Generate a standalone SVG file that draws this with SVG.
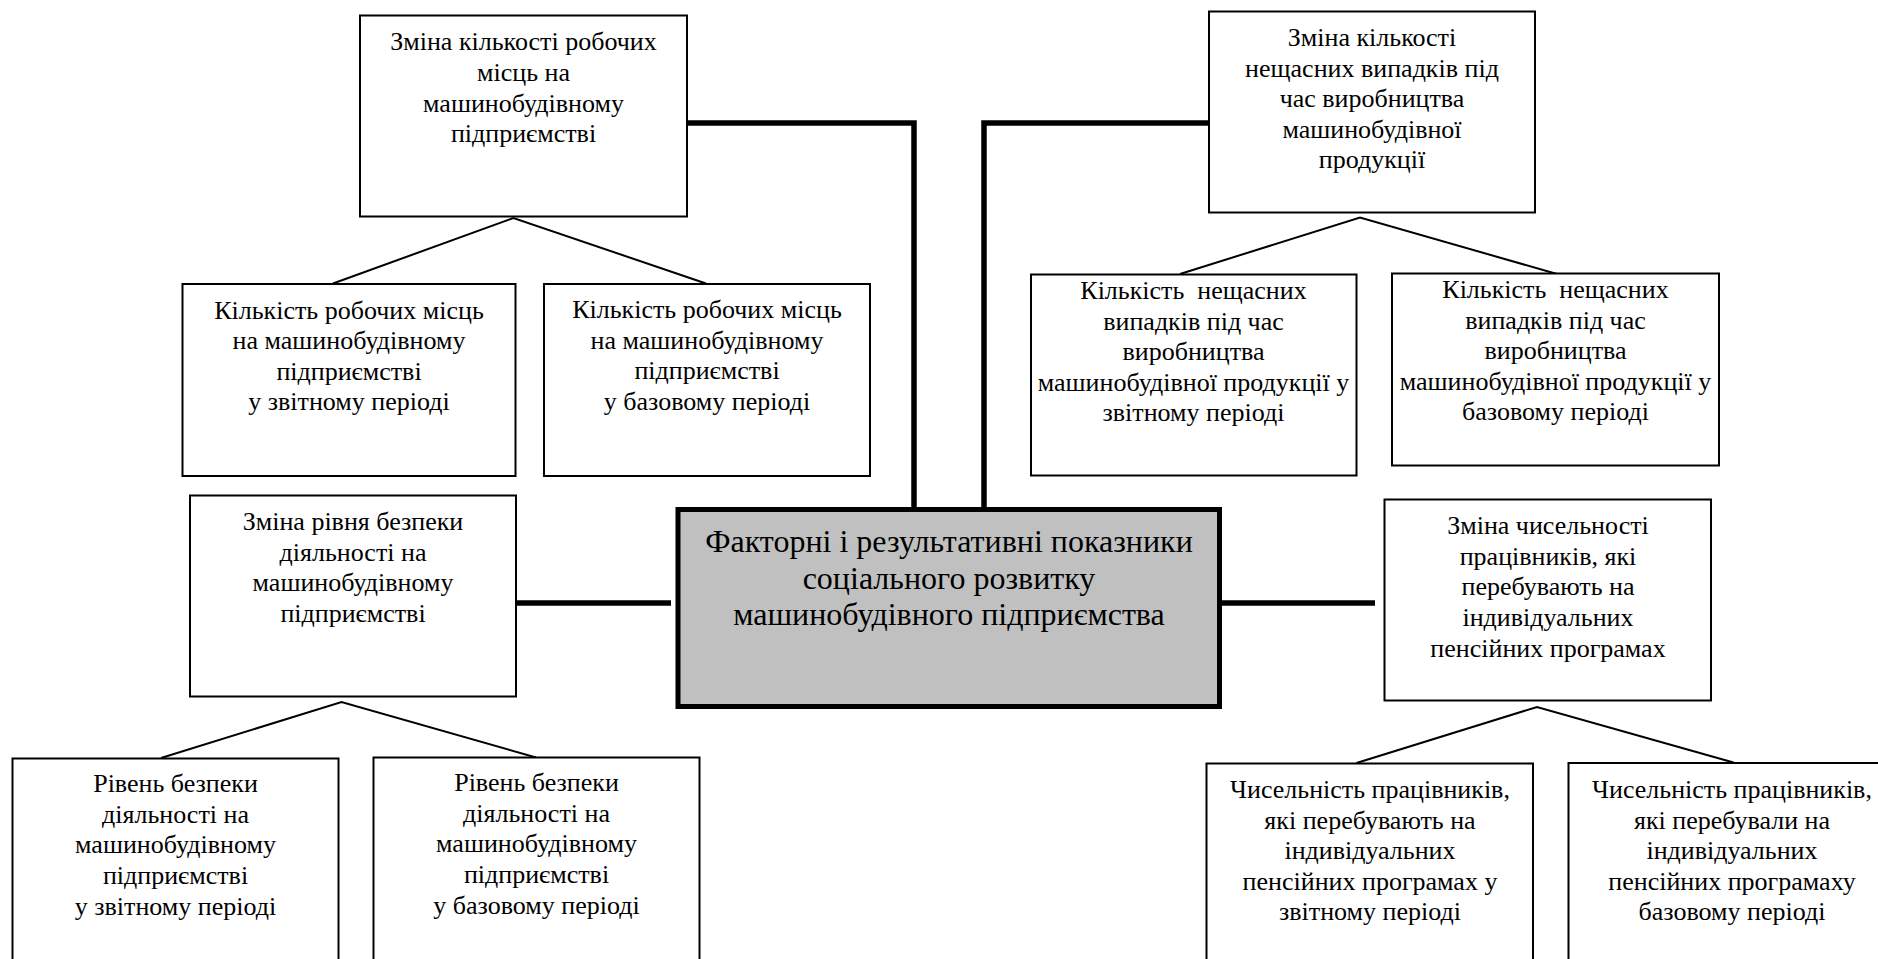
<svg xmlns="http://www.w3.org/2000/svg" width="1878" height="959" viewBox="0 0 1878 959">
<style>
.bg{fill:#fff}
.box{fill:#fff;stroke:#000;stroke-width:2}
.main{fill:#c0c0c0;stroke:#000;stroke-width:5}
.t{font-family:"Liberation Serif","Times New Roman",serif;font-size:26px;text-anchor:middle;fill:#000}
.tc{font-family:"Liberation Serif","Times New Roman",serif;font-size:32px;text-anchor:middle;fill:#000}
.thick{stroke:#000;stroke-width:5.5;fill:none;stroke-linejoin:miter}
.thin{stroke:#000;stroke-width:2;fill:none}
</style>
<rect class="bg" x="0" y="0" width="1878" height="959"/>
<g id="connectors">
<path class="thick" d="M687,123 H914 V507"/>
<path class="thick" d="M1208,123 H984 V507"/>
<path class="thick" d="M516,603 H671"/>
<path class="thick" d="M1222,603 H1375"/>
<path class="thin" d="M333,283.5 L513.5,218 L706,283.5"/>
<path class="thin" d="M1180,274 L1360,217.5 L1557,274"/>
<path class="thin" d="M161,758 L341.5,702 L536,757.5"/>
<path class="thin" d="M1356.5,763 L1537,707 L1733.5,762.5"/>
</g>
<g id="center">
<rect class="main" x="678" y="509.5" width="541.5" height="197"/>
<text class="tc"><tspan x="949" y="552">Факторні і результативні показники</tspan><tspan x="949" y="588.5">соціального розвитку</tspan><tspan x="949" y="625">машинобудівного підприємства</tspan></text>
</g>
<g id="n-workplaces">
<rect class="box" x="360" y="15.5" width="327" height="201"/>
<text class="t"><tspan x="523.5" y="50">Зміна кількості робочих</tspan><tspan x="523.5" y="81">місць на</tspan><tspan x="523.5" y="111.5">машинобудівному</tspan><tspan x="523.5" y="142">підприємстві</tspan></text>
</g>
<g id="n-workplaces-report">
<rect class="box" x="182.5" y="284" width="333" height="192"/>
<text class="t"><tspan x="349" y="318.5">Кількість робочих місць</tspan><tspan x="349" y="349">на машинобудівному</tspan><tspan x="349" y="379.5">підприємстві</tspan><tspan x="349" y="410">у звітному періоді</tspan></text>
</g>
<g id="n-workplaces-base">
<rect class="box" x="544" y="284" width="326" height="192"/>
<text class="t"><tspan x="707" y="318">Кількість робочих місць</tspan><tspan x="707" y="348.5">на машинобудівному</tspan><tspan x="707" y="379">підприємстві</tspan><tspan x="707" y="409.5">у базовому періоді</tspan></text>
</g>
<g id="n-accidents">
<rect class="box" x="1209" y="11.5" width="326" height="201"/>
<text class="t"><tspan x="1372" y="46">Зміна кількості</tspan><tspan x="1372" y="76.5">нещасних випадків під</tspan><tspan x="1372" y="107">час виробництва</tspan><tspan x="1372" y="137.5">машинобудівної</tspan><tspan x="1372" y="168">продукції</tspan></text>
</g>
<g id="n-accidents-report">
<rect class="box" x="1031" y="274.5" width="325.5" height="201"/>
<text class="t" style="white-space:pre"><tspan x="1193.5" y="299">Кількість  нещасних</tspan><tspan x="1193.5" y="329.5">випадків під час</tspan><tspan x="1193.5" y="360">виробництва</tspan><tspan x="1193.5" y="390.5">машинобудівної продукції у</tspan><tspan x="1193.5" y="421">звітному періоді</tspan></text>
</g>
<g id="n-accidents-base">
<rect class="box" x="1392" y="273.5" width="327" height="192"/>
<text class="t" style="white-space:pre"><tspan x="1555.5" y="298">Кількість  нещасних</tspan><tspan x="1555.5" y="328.5">випадків під час</tspan><tspan x="1555.5" y="359">виробництва</tspan><tspan x="1555.5" y="389.5">машинобудівної продукції у</tspan><tspan x="1555.5" y="420">базовому періоді</tspan></text>
</g>
<g id="n-safety">
<rect class="box" x="190" y="495.5" width="326" height="201"/>
<text class="t"><tspan x="353" y="530">Зміна рівня безпеки</tspan><tspan x="353" y="560.5">діяльності на</tspan><tspan x="353" y="591">машинобудівному</tspan><tspan x="353" y="621.5">підприємстві</tspan></text>
</g>
<g id="n-safety-report">
<rect class="box" x="12.5" y="758.5" width="326" height="220"/>
<text class="t"><tspan x="175.5" y="792">Рівень безпеки</tspan><tspan x="175.5" y="822.5">діяльності на</tspan><tspan x="175.5" y="853">машинобудівному</tspan><tspan x="175.5" y="883.5">підприємстві</tspan><tspan x="175.5" y="914.5">у звітному періоді</tspan></text>
</g>
<g id="n-safety-base">
<rect class="box" x="373.5" y="757.5" width="326" height="220"/>
<text class="t"><tspan x="536.5" y="791">Рівень безпеки</tspan><tspan x="536.5" y="821.5">діяльності на</tspan><tspan x="536.5" y="852">машинобудівному</tspan><tspan x="536.5" y="882.5">підприємстві</tspan><tspan x="536.5" y="913.5">у базовому періоді</tspan></text>
</g>
<g id="n-pension">
<rect class="box" x="1384.5" y="499.5" width="326.5" height="201"/>
<text class="t"><tspan x="1548" y="534">Зміна чисельності</tspan><tspan x="1548" y="564.5">працівників, які</tspan><tspan x="1548" y="595">перебувають на</tspan><tspan x="1548" y="625.5">індивідуальних</tspan><tspan x="1548" y="656.5">пенсійних програмах</tspan></text>
</g>
<g id="n-pension-report">
<rect class="box" x="1206.5" y="763.5" width="326.5" height="220"/>
<text class="t"><tspan x="1370" y="798">Чисельність працівників,</tspan><tspan x="1370" y="828.5">які перебувають на</tspan><tspan x="1370" y="859">індивідуальних</tspan><tspan x="1370" y="889.5">пенсійних програмах у</tspan><tspan x="1370" y="920">звітному періоді</tspan></text>
</g>
<g id="n-pension-base">
<rect class="box" x="1568.5" y="763" width="327" height="220"/>
<text class="t"><tspan x="1732" y="798">Чисельність працівників,</tspan><tspan x="1732" y="828.5">які перебували на</tspan><tspan x="1732" y="859">індивідуальних</tspan><tspan x="1732" y="889.5">пенсійних програмаху</tspan><tspan x="1732" y="920">базовому періоді</tspan></text>
</g>
</svg>
